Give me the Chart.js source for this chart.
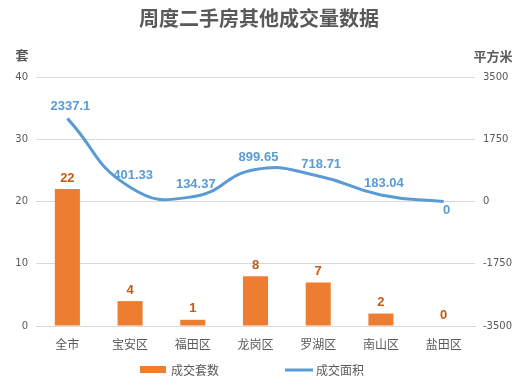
<!DOCTYPE html>
<html>
<head>
<meta charset="utf-8">
<script src="https://cdn.jsdelivr.net/npm/chart.js@4/dist/chart.umd.min.js"></script>
<style>
  html, body { margin: 0; padding: 0; background: #fff; }
  #wrap { width: 522px; height: 384px; }
</style>
</head>
<body>
<div id="wrap"><canvas id="chart" width="522" height="384"></canvas></div>
<script>
// data
var categories = ["全市", "宝安区", "福田区", "龙岗区", "罗湖区", "南山区", "盐田区"];
var dealCounts = [22, 4, 1, 8, 7, 2, 0];
var dealAreas = [2337.1, 401.33, 134.37, 899.65, 718.71, 183.04, 0];
var areaLabels = ["2337.1", "401.33", "134.37", "899.65", "718.71", "183.04", "0"];

var gray = "#595959";
var tickFont = "'DejaVu Sans', 'Noto Sans CJK SC', sans-serif";
var labelFont = "'Liberation Sans', Arial, sans-serif";
var cjk = "'Noto Sans CJK SC', sans-serif";

// value labels, title, axis titles and legend
var decorPlugin = {
    id: "decor",
    afterDatasetsDraw: function(chart) {
        var ctx = chart.ctx;
        ctx.save();
        ctx.textAlign = "center";
        ctx.textBaseline = "middle";

        ctx.font = "bold 13px " + labelFont;
        ctx.fillStyle = "#C55A11";
        var bars = chart.getDatasetMeta(chart.data.datasets.findIndex(function(d) { return d.type === "bar"; }));
        bars.data.forEach(function(bar, i) {
            ctx.fillText(String(dealCounts[i]), bar.x, bar.y - 11);
        });

        ctx.fillStyle = "#5B9BD5";
        var line = chart.getDatasetMeta(chart.data.datasets.findIndex(function(d) { return d.type === "line"; }));
        line.data.forEach(function(pt, i) {
            var dy = dealAreas[i] === 0 ? 9 : -12;
            ctx.fillText(areaLabels[i], pt.x + 3, pt.y + dy);
        });

        // title
        ctx.fillStyle = gray;
        ctx.font = "bold 20px " + cjk;
        ctx.fillText("周度二手房其他成交量数据", 259, 18);

        // axis titles
        ctx.font = "bold 13px " + cjk;
        ctx.fillText("套", 22, 55);
        ctx.fillText("平方米", 493, 56);

        // legend
        var y = 370;
        var barSet = chart.data.datasets[bars.index];
        var lineSet = chart.data.datasets[line.index];
        ctx.fillStyle = barSet.backgroundColor;
        ctx.fillRect(140, y - 4, 26, 7);
        ctx.strokeStyle = lineSet.borderColor;
        ctx.lineWidth = 3;
        ctx.beginPath();
        ctx.moveTo(285, y);
        ctx.lineTo(313, y);
        ctx.stroke();
        ctx.fillStyle = gray;
        ctx.font = "12px " + cjk;
        ctx.textAlign = "left";
        ctx.fillText(barSet.label, 171, y);
        ctx.fillText(lineSet.label, 316, y);
        ctx.restore();
    }
};

new Chart(document.getElementById("chart"), {
    data: {
        labels: categories,
        datasets: [
            {
                type: "bar",
                label: "成交套数",
                data: dealCounts,
                yAxisID: "y",
                backgroundColor: "#ED7D31",
                categoryPercentage: 0.4,
                barPercentage: 1.0,
                order: 1
            },
            {
                type: "line",
                label: "成交面积",
                data: dealAreas,
                yAxisID: "y2",
                borderColor: "#5B9BD5",
                borderWidth: 3,
                pointRadius: 0,
                tension: 0.5,
                fill: false,
                order: 0
            }
        ]
    },
    options: {
        responsive: false,
        animation: false,
        layout: { padding: { top: 77, left: 0, right: 0, bottom: 0 } },
        plugins: {
            legend: { display: false },
            title: { display: false },
            tooltip: { enabled: false }
        },
        scales: {
            x: {
                grid: { display: false },
                border: { color: "#D9D9D9" },
                ticks: { color: gray, font: { family: cjk, size: 12 }, padding: 3, maxRotation: 0 },
                afterFit: function(s) { s.height = 58; }
            },
            y: {
                position: "left",
                min: 0,
                max: 40,
                ticks: { stepSize: 10, color: gray, font: { family: tickFont, size: 10 }, padding: 8 },
                grid: { color: "#D9D9D9", drawTicks: false },
                border: { display: false },
                afterFit: function(s) { s.width = 36; }
            },
            y2: {
                position: "right",
                min: -3500,
                max: 3500,
                ticks: {
                    stepSize: 1750, color: gray, font: { family: tickFont, size: 10 }, padding: 8,
                    callback: function(v) { return String(v); }
                },
                grid: { display: false, drawTicks: false },
                border: { display: false },
                afterFit: function(s) { s.width = 47; }
            }
        }
    },
    plugins: [decorPlugin]
});
</script>
</body>
</html>
